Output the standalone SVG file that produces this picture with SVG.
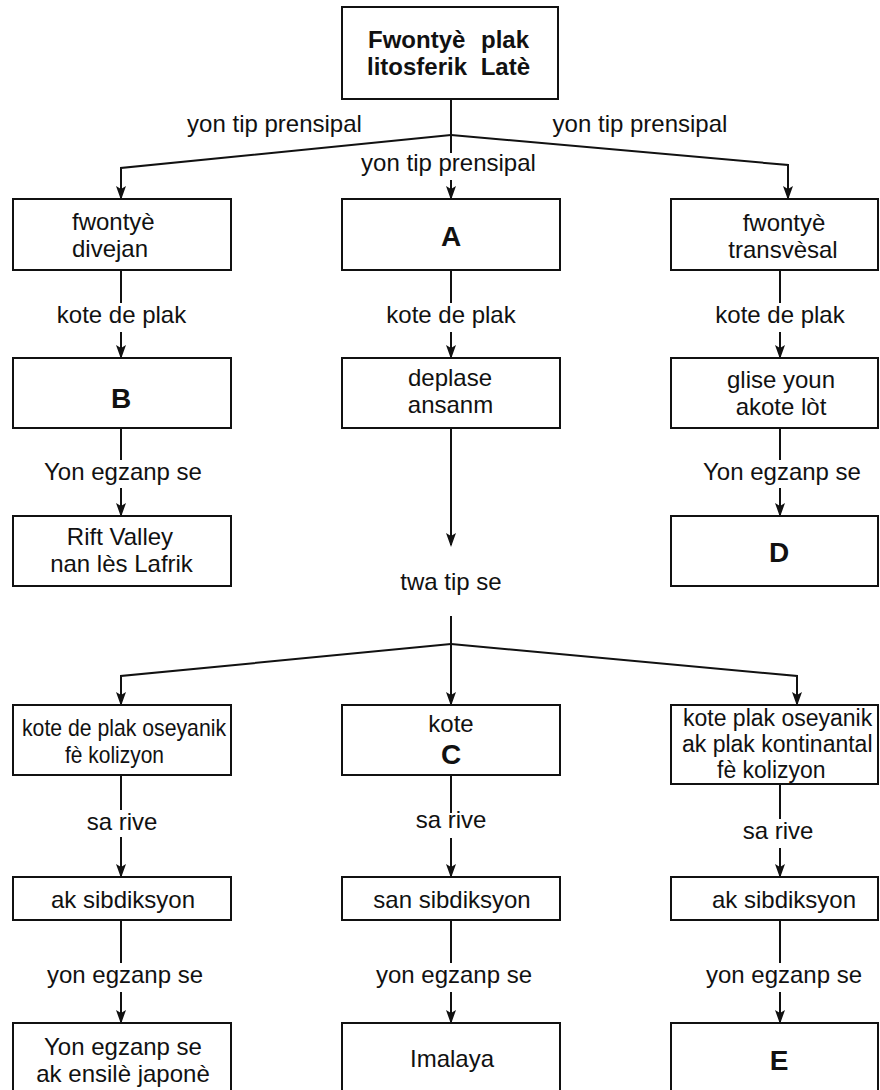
<svg xmlns="http://www.w3.org/2000/svg" width="880" height="1090" viewBox="0 0 880 1090">
<style>
.box{fill:#fff;stroke:#111;stroke-width:2}
.t{font-family:"Liberation Sans",Arial,sans-serif;font-size:24px;fill:#111;text-anchor:middle}
.s{font-size:23px}
.b{font-weight:bold;font-size:28px}
.hb{font-weight:bold;font-size:24px}
.conn path{fill:none;stroke:#111;stroke-width:2}
.arr{marker-end:url(#ah)}
</style>
<defs>
<marker id="ah" markerUnits="userSpaceOnUse" viewBox="0 0 14 10" refX="12" refY="5" markerWidth="14" markerHeight="10" orient="auto">
<path d="M0,0 L14,5 L0,10 L3,5 z" fill="#111"/>
</marker>
</defs>
<rect width="880" height="1090" fill="#fff"/>
<g class="conn">
<path d="M451,99 V153"/>
<path class="arr" d="M451,135 L121,168 V198"/>
<path class="arr" d="M451,135 L788,165 V198"/>
<path class="arr" d="M451,180 V198"/>
<path d="M121,270 V303"/><path class="arr" d="M121,332 V357"/>
<path d="M121,428 V460"/><path class="arr" d="M121,488 V515"/>
<path d="M451,270 V303"/><path class="arr" d="M451,332 V357"/>
<path class="arr" d="M451,428 V545"/>
<path d="M780,270 V303"/><path class="arr" d="M780,332 V357"/>
<path d="M780,428 V460"/><path class="arr" d="M780,488 V515"/>
<path class="arr" d="M451,616 V704"/>
<path class="arr" d="M451,644 L121,676 V704"/>
<path class="arr" d="M451,644 L797,676 V704"/>
<path d="M121,775 V810"/><path class="arr" d="M121,837 V876"/>
<path d="M121,920 V963"/><path class="arr" d="M121,992 V1022"/>
<path d="M451,775 V813"/><path class="arr" d="M451,838 V876"/>
<path d="M451,920 V963"/><path class="arr" d="M451,992 V1022"/>
<path d="M780,784 V819"/><path class="arr" d="M780,848 V876"/>
<path d="M780,920 V963"/><path class="arr" d="M780,992 V1022"/>
</g>
<g id="labels">
<text class="t" x="274.5" y="132">yon tip prensipal</text>
<text class="t" x="640" y="132">yon tip prensipal</text>
<text class="t" x="448.5" y="171">yon tip prensipal</text>
<text class="t" x="121.5" y="323">kote de plak</text>
<text class="t" x="451" y="323">kote de plak</text>
<text class="t" x="780" y="323">kote de plak</text>
<text class="t" x="123" y="480">Yon egzanp se</text>
<text class="t" x="782" y="480">Yon egzanp se</text>
<text class="t" x="451" y="590">twa tip se</text>
<text class="t" x="122" y="830">sa rive</text>
<text class="t" x="451" y="828">sa rive</text>
<text class="t" x="778" y="839">sa rive</text>
<text class="t" x="125" y="983">yon egzanp se</text>
<text class="t" x="454" y="983">yon egzanp se</text>
<text class="t" x="784" y="983">yon egzanp se</text>
</g>
<g id="n-root">
<rect class="box" x="342" y="7" width="216" height="92"/>
<text class="t hb" x="368" y="48" style="text-anchor:start">Fwontyè</text>
<text class="t hb" x="529" y="48" style="text-anchor:end">plak</text>
<text class="t hb" x="367" y="75" style="text-anchor:start">litosferik</text>
<text class="t hb" x="530" y="75" style="text-anchor:end">Latè</text>
</g>
<g id="n-divejan">
<rect class="box" x="13" y="199" width="218" height="71"/>
<text class="t" x="72" y="230" style="text-anchor:start">fwontyè</text>
<text class="t" x="72" y="257" style="text-anchor:start">divejan</text>
</g>
<g id="n-A">
<rect class="box" x="342" y="199" width="218" height="71"/>
<text class="t b" x="451" y="246">A</text>
</g>
<g id="n-transvesal">
<rect class="box" x="671" y="199" width="207" height="71"/>
<text class="t" x="784" y="231">fwontyè</text>
<text class="t" x="783" y="258">transvèsal</text>
</g>
<g id="n-B">
<rect class="box" x="13" y="358" width="218" height="70"/>
<text class="t b" x="121" y="408">B</text>
</g>
<g id="n-deplase">
<rect class="box" x="342" y="358" width="218" height="70"/>
<text class="t" x="450" y="386">deplase</text>
<text class="t" x="450.5" y="413">ansanm</text>
</g>
<g id="n-glise">
<rect class="box" x="671" y="358" width="207" height="70"/>
<text class="t" x="781" y="388">glise youn</text>
<text class="t" x="781" y="415">akote lòt</text>
</g>
<g id="n-rift">
<rect class="box" x="13" y="516" width="218" height="70"/>
<text class="t" x="120" y="545">Rift Valley</text>
<text class="t" x="121.5" y="572">nan lès Lafrik</text>
</g>
<g id="n-D">
<rect class="box" x="671" y="516" width="207" height="70"/>
<text class="t b" x="779" y="562">D</text>
</g>
<g id="n-oseyanik">
<rect class="box" x="13" y="705" width="218" height="70"/>
<text class="t" x="22" y="736" style="text-anchor:start" textLength="204" lengthAdjust="spacingAndGlyphs">kote de plak oseyanik</text>
<text class="t" x="65" y="763" style="text-anchor:start" textLength="99" lengthAdjust="spacingAndGlyphs">fè kolizyon</text>
</g>
<g id="n-C">
<rect class="box" x="342" y="705" width="218" height="70"/>
<text class="t" x="451" y="732">kote</text>
<text class="t b" x="451" y="764">C</text>
</g>
<g id="n-kontinantal">
<rect class="box" x="671" y="705" width="207" height="79"/>
<text class="t s" x="683" y="726" style="text-anchor:start">kote plak oseyanik</text>
<text class="t s" x="682" y="752" style="text-anchor:start">ak plak kontinantal</text>
<text class="t s" x="717" y="778" style="text-anchor:start">fè kolizyon</text>
</g>
<g id="n-sib1">
<rect class="box" x="13" y="877" width="218" height="43"/>
<text class="t" x="123" y="908">ak sibdiksyon</text>
</g>
<g id="n-sib2">
<rect class="box" x="342" y="877" width="218" height="43"/>
<text class="t" x="452" y="908">san sibdiksyon</text>
</g>
<g id="n-sib3">
<rect class="box" x="671" y="877" width="207" height="43"/>
<text class="t" x="784" y="908">ak sibdiksyon</text>
</g>
<g id="n-japone">
<rect class="box" x="13" y="1023" width="218" height="70"/>
<text class="t" x="123" y="1055">Yon egzanp se</text>
<text class="t" x="123" y="1082">ak ensilè japonè</text>
</g>
<g id="n-imalaya">
<rect class="box" x="342" y="1023" width="218" height="70"/>
<text class="t" x="452" y="1067">Imalaya</text>
</g>
<g id="n-E">
<rect class="box" x="671" y="1023" width="207" height="70"/>
<text class="t b" x="779" y="1070">E</text>
</g>
</svg>
